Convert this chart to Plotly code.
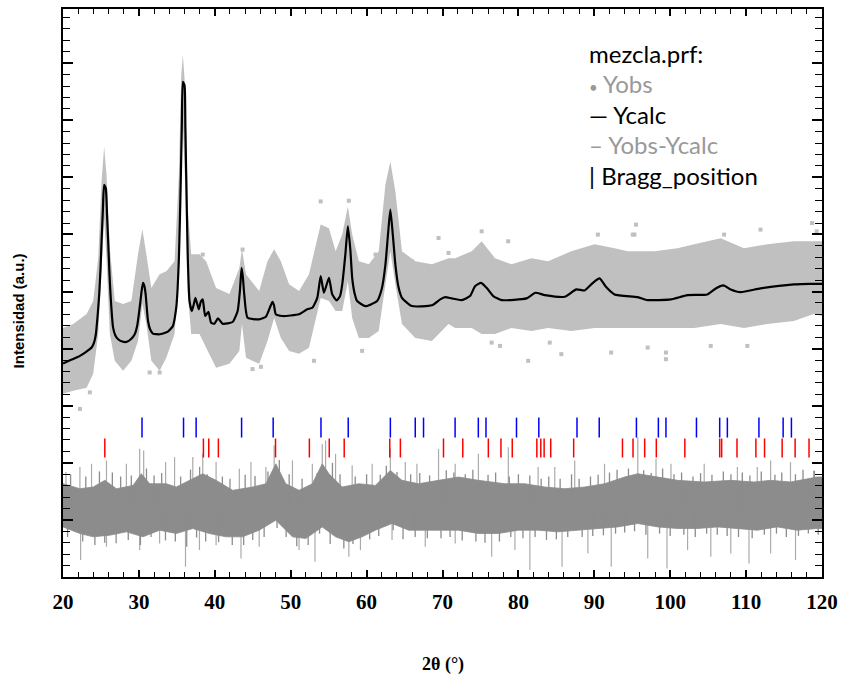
import plotly.graph_objects as go

# ---------------- data (2theta in degrees, intensity in arbitrary units) ----------------
calc_x = [20.0, 21.0, 22.23, 23.0, 23.77, 24.1, 24.33, 24.55, 24.77, 24.95, 25.08, 25.25, 25.42, 25.64, 25.8, 25.95,
          26.1, 26.26, 26.6, 26.9, 27.26, 27.8, 28.36, 28.9, 29.45, 29.8, 30.1, 30.35, 30.54, 30.72, 30.89, 31.2,
          31.5, 31.85, 32.73, 33.82, 34.48, 34.92, 35.1, 35.27, 35.4, 35.53, 35.66, 35.79, 36.01, 36.12, 36.23,
          36.44, 36.67, 36.97, 37.2, 37.45, 37.89, 38.15, 38.41, 38.73, 39.16, 39.51, 39.95, 40.43,
          41.04, 42.35, 43.01, 43.3, 43.53, 43.7, 43.88, 44.32, 45.85, 46.73, 47.25, 47.6, 47.8, 48.04, 48.91, 51.1,
          52.19, 52.85, 53.5, 53.95, 54.38, 55.04, 55.47, 56.05, 56.5, 56.79, 57.2, 57.53, 57.85, 58.1, 58.4,
          58.75, 59.85, 61.38, 62.0, 62.48, 62.85, 63.13, 63.45, 63.79, 64.2, 64.66, 65.97, 68.6, 69.7,
          70.35, 71.22, 72.53, 73.63, 74.29, 75.08, 75.81, 76.69, 77.78, 81.06, 82.24, 83.48, 86.1, 87.63,
          88.73, 89.82, 90.69, 91.56, 92.66, 95.72, 97.03, 100.09, 102.28, 104.9, 106.0, 107.01, 107.97,
          109.28, 111.9, 116.29, 118.47, 120.0]
calc_y = [3740, 3800, 3874, 3940, 4019, 4110, 4252, 4560, 4950, 5420, 5881, 6420, 6870, 6811, 6350, 5881,
          5380, 4950, 4368, 4230, 4165, 4125, 4118, 4160, 4252, 4420, 4717, 5000, 5153, 5100, 4950, 4485,
          4330, 4263, 4252, 4298, 4397, 4717, 5050, 5589, 6250, 7045, 7950, 8673, 8615, 7900, 7045,
          5589, 4834, 4659, 4760, 4891, 4689, 4820, 4863, 4572, 4647, 4455, 4437, 4532,
          4437, 4467, 4659, 5000, 5415, 5250, 4950, 4542, 4514, 4560, 4717, 4821, 4760, 4602, 4572, 4602,
          4689, 4717, 4891, 5270, 4979, 5241, 4950, 4845, 4920, 5125, 5650, 6142, 5750, 5241, 4980,
          4834, 4746, 4834, 5050, 5474, 6050, 6434, 6000, 5474, 5080, 4891, 4746, 4759, 4863,
          4903, 4880, 4851, 4921, 5095, 5153, 5066, 4921, 4851, 4880, 4979, 4938, 4909, 5038,
          5020, 5153, 5230, 5078, 4950, 4903, 4851, 4863, 4938, 4950, 5055, 5108, 5038,
          4991, 5055, 5125, 5136, 5136]

obs_x = [20, 21.35, 23.11, 23.98, 24.64, 25.08, 25.42, 25.73, 26.17, 26.82, 27.92, 29.01, 29.88,
         30.46, 30.98, 31.64, 32.73, 33.61, 34.7, 35.27, 35.58, 35.79, 36.14, 36.44, 36.89, 37.98,
         38.86, 40.17, 41.92, 43.23, 43.58, 44.11, 45.85, 46.94, 47.82, 48.7, 49.79, 51.1, 52.41,
         53.29, 53.95, 55.04, 55.92, 56.79, 57.53, 58.1, 58.98, 60.29, 61.6, 62.48, 63.13, 63.79,
         64.66, 66.42, 68.6, 70.79, 71.66, 73.85, 75.16, 76.92, 79.1, 81.72, 83.91, 86.97, 90.04,
         92.66, 94.41, 97.91, 100.97, 103.16, 106.65, 109.72, 112.78, 116.29, 118.91, 120]
obs_upper = [4363, 4432, 4607, 4834, 5584, 6928, 7538, 7050, 5759, 4834, 4781, 4834, 5654,
             6090, 5654, 5061, 5305, 5357, 5532, 7050, 8795, 9144, 8498, 6457, 5654, 5654,
             5532, 5061, 4956, 5410, 5741, 5305, 5008, 5532, 5741, 5532, 5130, 5008, 5305,
             5828, 6177, 6108, 5706, 6003, 6491, 6003, 5532, 5479, 5706, 6875, 7277, 6753,
             5706, 5532, 5479, 5584, 5584, 5706, 5881, 5584, 5479, 5584, 5532, 5706, 5828,
             5759, 5706, 5706, 5759, 5828, 5933, 5759, 5828, 5881, 5881, 5881]
obs_lower = [3211, 3263, 3316, 3560, 4258, 5305, 6282, 5584, 4258, 3787, 3612, 3787, 4136,
             4781, 4432, 3787, 3612, 3839, 4258, 5305, 7050, 7922, 6753, 4956, 4258, 4258,
             4014, 3665, 3734, 3961, 4432, 3839, 3734, 4136, 4537, 4188, 3961, 3909, 4014,
             4537, 4886, 4834, 4659, 4659, 5183, 4537, 4188, 4188, 4310, 5130, 5706, 5130,
             4432, 4188, 4136, 4432, 4363, 4363, 4258, 4258, 4363, 4310, 4363, 4310, 4363,
             4363, 4363, 4363, 4363, 4363, 4432, 4363, 4432, 4485, 4607, 4572]

# isolated observed points outside the dense cloud
out_x = [75.16, 78.66, 90.47, 95.29, 81.29, 85.66, 92.22, 76.47, 77.57, 84.13, 70.79, 69.48,
         95.5, 111.9, 118.69, 97.03, 99.44, 99.44, 105.34, 110.16, 95.07, 107.1, 53.95, 57.66,
         59.41, 53.07, 44.97, 46.08, 61.17, 65.97, 22.23, 32.73, 31.42, 38.41, 23.54, 43.66, 119.3]
out_y = [6055, 5881, 5998, 5998, 3787, 3904, 3932, 4106, 4048, 4106, 5677, 5938,
         6172, 6085, 6200, 4019, 3932, 3816, 4048, 4048, 5998, 5998, 6579, 6591,
         3961, 3787, 3642, 3682, 5648, 5532, 2944, 3583, 3583, 5648, 3234, 5736, 6055]

# difference curve: dense core envelope
diff_up_x = [20, 22.23, 23.98, 25.51, 27.04, 29.23, 30.32, 31.42, 33.61, 34.92, 37.1, 38.41, 40.17,
             42.35, 44.98, 46.73, 48.04, 49.35, 51.1, 52.85, 54.16, 55.04, 56.79, 58.98, 61.16,
             63.13, 64.66, 66.85, 69.48, 72.1, 74.73, 78.23, 80.85, 83.48, 86.1, 88.73, 91.35,
             93.98, 95.73, 98.35, 100.98, 104.48, 107.98, 111.04, 113.23, 115.85, 119.35, 120]
diff_up_y = [1634, 1547, 1576, 1693, 1547, 1605, 1809, 1634, 1634, 1576, 1722, 1809, 1693,
             1518, 1576, 1634, 1983, 1634, 1518, 1634, 1983, 1809, 1576, 1634, 1605,
             1867, 1693, 1634, 1693, 1751, 1693, 1634, 1634, 1576, 1547, 1576, 1634,
             1751, 1809, 1751, 1693, 1664, 1693, 1664, 1693, 1664, 1751, 1751]
diff_lo_x = [20, 22.23, 23.98, 26.17, 28.35, 30.54, 32.73, 34.92, 37.1, 39.29, 41.48, 43.66, 45.85,
             48.04, 50.23, 51.98, 54.16, 55.91, 57.66, 59.41, 61.16, 63.35, 65.54, 67.73, 69.48,
             72.1, 74.73, 77.35, 79.98, 82.6, 85.23, 87.85, 90.48, 93.1, 95.73, 98.35, 100.98,
             103.6, 106.23, 108.85, 111.47, 114.1, 116.72, 119.35, 120]
diff_lo_y = [878, 762, 704, 733, 791, 704, 820, 762, 849, 762, 704, 704, 820,
             995, 704, 675, 878, 704, 617, 704, 820, 937, 820, 820, 820,
             820, 762, 762, 820, 820, 791, 820, 849, 878, 937, 878, 849,
             849, 878, 849, 820, 878, 820, 849, 849]
diff_center = 1200

# difference curve: light spikes (tip values)
spike_x = [20.39, 22.23, 23.76, 25.73, 28.35, 30.1, 30.63, 33.52, 34.7, 37.1, 38.41, 40.17, 43.23,
           44.76, 46.73, 47.82, 50.23, 52.85, 54.16, 54.6, 55.91, 58.1, 60.73, 63.13, 65.1, 66.63,
           69.48, 22.32, 25.73, 30.1, 32.73, 36.14, 37.98, 40.17, 43.45, 45.85, 51.1, 53.2, 57.66,
           59.19, 63.35, 67.73, 71.67, 74.73, 78.67, 82.6, 84.79, 87.42, 91.35, 95.73, 98.13,
           100.1, 104.48, 108.85, 111.47, 113.23, 115.85, 118.91, 71.67, 76.48, 79.54, 81.51,
           85.75, 89.16, 92.23, 97.04, 99.58, 102.29, 105.35, 107.98, 110.38, 113.23, 116.51]
spike_y = [1838, 1925, 1983, 2042, 1983, 2245, 2216, 2013, 2100, 2100, 2158, 2013, 1896,
           2013, 1925, 2303, 2042, 1983, 2332, 2391, 2158, 1954, 1983, 2245, 2013, 1983,
           2245, 297, 529, 471, 587, 180, 471, 558, 326, 529, 471, 268, 355,
           471, 646, 529, 1983, 2158, 2274, 1925, 1925, 2042, 1983, 2449, 2071,
           1983, 1983, 1925, 1925, 2042, 2013, 1867, 587, 355, 471, 122,
           180, 413, 180, 326, 151, 471, 355, 413, 238, 413, 297]

# difference curve: dark spikes just outside the dense core (tip values)
dark_up_x = [21.0, 23.0, 24.8, 26.5, 27.6, 29.0, 31.0, 32.0, 33.0, 35.5, 36.8, 38.0, 39.0, 41.0, 42.0,
             44.0, 45.3, 47.0, 48.5, 49.8, 51.5, 53.5, 55.5, 56.5, 58.5, 60.0, 61.8, 62.6, 64.0, 65.8,
             67.0, 68.3, 70.5, 71.5, 73.0, 74.0, 76.0, 77.0, 78.8, 80.0, 81.5, 83.0, 84.0, 85.5, 87.0,
             88.0, 89.5, 90.5, 92.0, 93.0, 94.5, 96.5, 97.5, 99.0, 100.5, 101.5, 103.0, 104.0, 105.5,
             107.0, 108.0, 109.5, 110.5, 112.0, 113.8, 114.7, 116.5, 117.5, 119.0]
dark_up_y = [1800, 1760, 1850, 1830, 1760, 1780, 1900, 1780, 1820, 1760, 1880, 1930, 1800, 1760, 1720,
             1790, 1770, 1850, 2050, 1800, 1720, 1820, 2000, 1800, 1760, 1800, 1790, 1950, 1840, 1800,
             1820, 1780, 1870, 1830, 1800, 1880, 1790, 1830, 1760, 1800, 1780, 1720, 1760, 1720, 1800,
             1720, 1760, 1790, 1830, 1880, 1900, 1870, 1820, 1900, 1800, 1830, 1760, 1820, 1790,
             1850, 1800, 1830, 1780, 1850, 1790, 1830, 1800, 1880, 1860]
dark_lo_x = [20.6, 22.6, 24.2, 25.5, 27.0, 28.6, 30.2, 31.6, 33.5, 34.8, 36.3, 37.6, 38.8, 40.5, 42.3,
             43.8, 45.0, 46.5, 48.2, 49.4, 50.8, 52.3, 53.8, 55.2, 57.0, 58.2, 60.4, 61.6, 63.5, 64.8,
             66.4, 68.0, 69.8, 71.0, 72.6, 74.4, 75.6, 77.5, 79.0, 80.6, 82.2, 83.7, 85.0, 86.5, 88.4,
             89.8, 91.2, 92.8, 94.0, 95.3, 96.8, 98.6, 100.0, 101.8, 103.3, 104.8, 106.2, 107.5, 109.0,
             110.8, 112.4, 114.0, 115.3, 116.9, 118.2, 119.5]
dark_lo_y = [700, 620, 560, 600, 590, 650, 560, 700, 640, 620, 530, 690, 620, 610, 560,
             560, 650, 700, 860, 700, 540, 560, 760, 580, 500, 580, 660, 720, 820, 660,
             700, 680, 680, 700, 640, 620, 600, 620, 700, 680, 700, 650, 660, 700, 700,
             720, 730, 760, 780, 800, 740, 760, 720, 740, 700, 760, 740, 720, 700,
             680, 740, 760, 700, 720, 760, 740]

# Bragg reflection positions (two phases)
bragg_blue = [30.41, 35.88, 37.54, 43.53, 47.69, 53.99, 57.58, 63.13, 66.41, 67.5, 71.66, 74.72,
              75.73, 79.75, 82.69, 87.72, 90.65, 95.55, 98.44, 99.44, 103.46, 106.52, 107.53,
              111.69, 114.88, 115.97]
bragg_red = [25.51, 38.5, 39.2, 40.47, 48.0, 52.46, 55.08, 57.05, 63.05, 64.45, 70.13, 72.67,
             76.04, 77.7, 79.19, 82.43, 82.95, 83.39, 84.26, 87.28, 93.71, 95.1, 96.64, 98.17,
             101.93, 106.52, 106.78, 108.8, 111.29, 112.43, 114.75, 116.46, 118.29]
blue_span = [2443, 2792]
red_span = [2094, 2426]

x_ticks = [20, 30, 40, 50, 60, 70, 80, 90, 100, 110, 120]

# ---------------- figure ----------------
fig = go.Figure()


def segments(xs, ys, base):
    sx, sy = [], []
    for xv, yv in zip(xs, ys):
        sx += [xv, xv, None]
        sy += [base, yv, None]
    return sx, sy


# Yobs cloud
fig.add_trace(go.Scatter(x=obs_x, y=obs_upper, mode="lines", line=dict(width=0, color="#c0c0c0"),
                         showlegend=False, hoverinfo="skip"))
fig.add_trace(go.Scatter(x=obs_x, y=obs_lower, mode="lines", line=dict(width=0, color="#c0c0c0"),
                         fill="tonexty", fillcolor="#c0c0c0", showlegend=False, hoverinfo="skip"))
fig.add_trace(go.Scatter(x=out_x, y=out_y, mode="markers",
                         marker=dict(symbol="square", size=4, color="#c0c0c0"), showlegend=False))

# Ycalc
fig.add_trace(go.Scatter(x=calc_x, y=calc_y, mode="lines",
                         line=dict(color="black", width=2.2, shape="spline", smoothing=0.5),
                         showlegend=False))

# Yobs - Ycalc
sx, sy = segments(spike_x, spike_y, diff_center)
fig.add_trace(go.Scatter(x=sx, y=sy, mode="lines", line=dict(color="#ababab", width=1.2),
                         showlegend=False, hoverinfo="skip"))
fig.add_trace(go.Scatter(x=diff_lo_x[::-1] + diff_up_x, y=diff_lo_y[::-1] + diff_up_y, mode="lines",
                         line=dict(width=0.8, color="#8c8c8c"), fill="toself", fillcolor="#8c8c8c",
                         showlegend=False, hoverinfo="skip"))
dx1, dy1 = segments(dark_up_x, dark_up_y, diff_center)
dx2, dy2 = segments(dark_lo_x, dark_lo_y, diff_center)
fig.add_trace(go.Scatter(x=dx1 + dx2, y=dy1 + dy2, mode="lines", line=dict(color="#8c8c8c", width=1.3),
                         showlegend=False, hoverinfo="skip"))

# Bragg positions
bx, by = [], []
for p in bragg_blue:
    bx += [p, p, None]
    by += [blue_span[0], blue_span[1], None]
rx, ry = [], []
for p in bragg_red:
    rx += [p, p, None]
    ry += [red_span[0], red_span[1], None]
fig.add_trace(go.Scatter(x=bx, y=by, mode="lines", line=dict(color="#0000ff", width=1.5),
                         showlegend=False, hoverinfo="skip"))
fig.add_trace(go.Scatter(x=rx, y=ry, mode="lines", line=dict(color="#ff0000", width=1.5),
                         showlegend=False, hoverinfo="skip"))

fig.update_xaxes(range=[20, 120], tickvals=x_ticks, ticks="inside", ticklen=7, tickwidth=2,
                 tickcolor="black", minor=dict(dtick=2, tick0=20, ticks="inside", ticklen=5,
                                               tickwidth=1, tickcolor="black"),
                 showline=True, linecolor="black", linewidth=2, mirror="allticks",
                 showgrid=False, zeroline=False, ticklabelstandoff=5,
                 tickfont=dict(family="Liberation Serif", size=21, color="black", weight="bold"))
fig.update_yaxes(range=[0, 9950], tick0=0, dtick=1000, ticks="inside", ticklen=10, tickwidth=2,
                 tickcolor="black", minor=dict(dtick=200, ticks="inside", ticklen=7, tickwidth=1,
                                               tickcolor="black"),
                 showticklabels=False, showline=True, linecolor="black", linewidth=2,
                 mirror="allticks", showgrid=False, zeroline=False)

legend_font = "Lato"
ann = [
    dict(text="mezcla.prf:", y=0.921, color="black"),
    dict(text="<span style='font-size:15px'>•</span> Yobs", y=0.868, color="#999999"),
    dict(text="— Ycalc", y=0.814, color="black"),
    dict(text="– Yobs-Ycalc", y=0.761, color="#999999"),
    dict(text="| Bragg_position", y=0.707, color="black"),
]
for a in ann:
    fig.add_annotation(text=a["text"], x=0.69, y=a["y"], xref="paper", yref="paper",
                       xanchor="left", yanchor="middle", showarrow=False,
                       font=dict(family=legend_font, size=24, color=a["color"]))

fig.add_annotation(text="2θ (°)", x=0.5, y=-0.154, xref="paper", yref="paper", showarrow=False,
                   xanchor="center", yanchor="middle",
                   font=dict(family="Liberation Serif", size=18, color="black", weight="bold"))
fig.add_annotation(text="Intensidad (a.u.)", x=-0.059, y=0.468, xref="paper", yref="paper",
                   showarrow=False, textangle=-90, xanchor="center", yanchor="middle",
                   font=dict(family="Liberation Sans", size=15, color="black", weight="bold"))

fig.update_layout(width=845, height=682, margin=dict(l=63, r=20, t=7, b=105),
                  paper_bgcolor="white", plot_bgcolor="white", showlegend=False)

fig.write_html("out.html", config={"displayModeBar": False},
               post_script="document.body.style.margin='0';")
